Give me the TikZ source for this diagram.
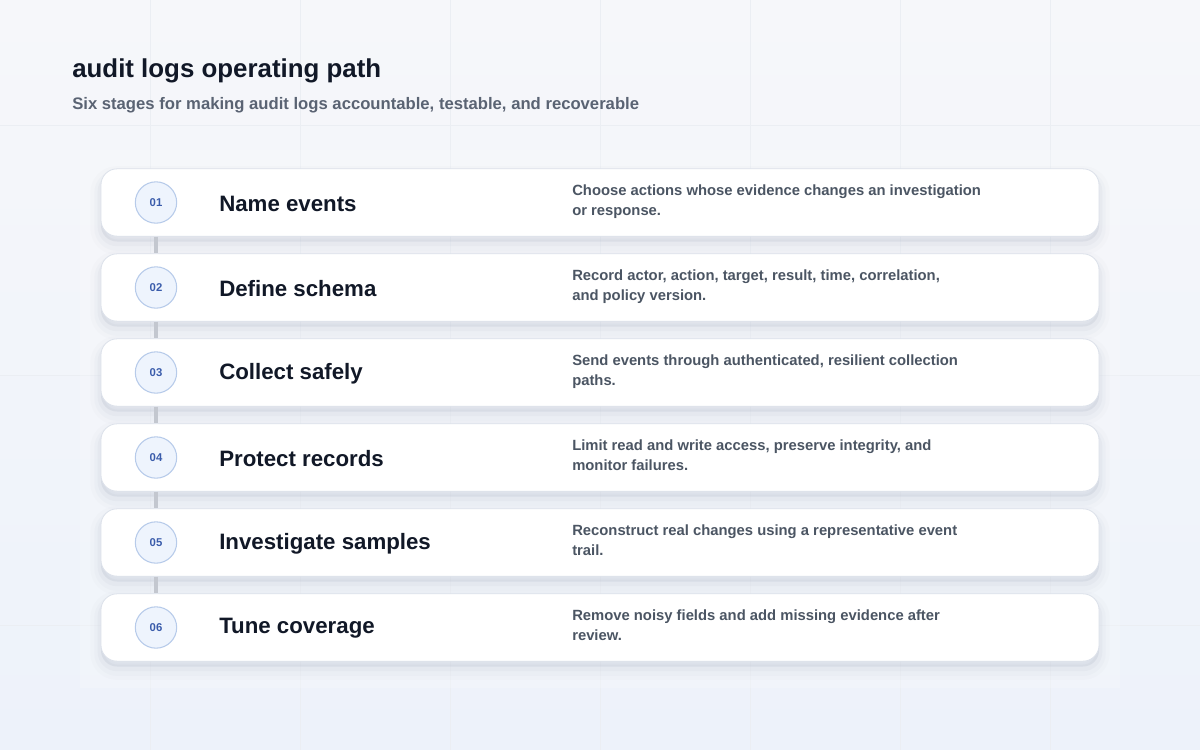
\documentclass[tikz,border=0pt]{standalone}
\usepackage{fontspec}
\setmainfont{Liberation Sans}
\definecolor{bgtop}{HTML}{F6F7FA}
\definecolor{bgbot}{HTML}{EDF2FA}
\definecolor{gridcol}{HTML}{EBEEF3}
\definecolor{cardline}{HTML}{DCE1EA}
\definecolor{shadowcol}{HTML}{7D89A3}
\definecolor{numfill}{HTML}{EEF4FD}
\definecolor{numline}{HTML}{B7CBEA}
\definecolor{numtext}{HTML}{3A5CAB}
\definecolor{ink}{HTML}{111827}
\definecolor{desctext}{HTML}{4B5563}
\definecolor{subtext}{HTML}{5A6373}
\definecolor{linkcol}{HTML}{C3C7CF}
\begin{document}
\begin{tikzpicture}[x=0.75pt, y=-0.75pt]
       \tikzstyle{card}=[draw=cardline, line width=0.6pt, fill=white, rounded corners=12pt,
         minimum width=748.5pt, minimum height=50.5pt,
         preaction={draw=shadowcol, line width=16pt, opacity=0.025, transform canvas={yshift=-6pt}},
         preaction={draw=shadowcol, line width=10pt, opacity=0.035, transform canvas={yshift=-6pt}},
         preaction={draw=shadowcol, line width=5pt, opacity=0.05, transform canvas={yshift=-5pt}},
         preaction={fill=shadowcol, opacity=0.12, transform canvas={yshift=-4pt}}]
       \tikzstyle{numnode}=[circle, draw=numline, line width=0.8pt, fill=numfill, minimum size=31pt,
         inner sep=0pt, text=numtext, font=\fontsize{8.5}{10}\selectfont\bfseries]
       \tikzstyle{titlenode}=[anchor=west, inner sep=0pt, text=ink, font=\fontsize{16.7}{20}\selectfont\bfseries]
       \tikzstyle{descnode}=[anchor=north west, inner sep=0pt, align=left, text=desctext,
         font=\fontsize{11.1}{15}\selectfont\bfseries]
       \tikzstyle{link}=[draw=linkcol, line width=2.3pt]
       % background
       \useasboundingbox[top color=bgtop, bottom color=bgbot] (0,0) rectangle (1200,750);
       \fill[top color=bgtop, bottom color=bgbot] (0,0) rectangle (1200,750);
       \draw[gridcol, line width=0.5pt] (150,0) -- (150,750) (300,0) -- (300,750) (450,0) -- (450,750)
         (600,0) -- (600,750) (750,0) -- (750,750) (900,0) -- (900,750) (1050,0) -- (1050,750)
         (0,125) -- (1200,125) (0,375) -- (1200,375) (0,625) -- (1200,625);
       \fill[white, opacity=0.18] (80,150) rectangle (1120,688);
       % heading
       \node[anchor=base west, inner sep=0pt, text=ink, font=\fontsize{19.4}{23}\selectfont\bfseries]
         (head) at (72,77) {audit logs operating path};
       \node[anchor=base west, inner sep=0pt, text=subtext, font=\fontsize{12.5}{15}\selectfont\bfseries]
         (sub) at (72,109) {Six stages for making audit logs accountable, testable, and recoverable};
       % stages
       \node[card] (card1) at (600,202.5) {};
       \node[card] (card2) at (600,287.5) {};
       \node[card] (card3) at (600,372.5) {};
       \node[card] (card4) at (600,457.5) {};
       \node[card] (card5) at (600,542.5) {};
       \node[card] (card6) at (600,627.5) {};
       \node[numnode] (num1) at (156,202.5) {01};
       \node[numnode] (num2) at (156,287.5) {02};
       \node[numnode] (num3) at (156,372.5) {03};
       \node[numnode] (num4) at (156,457.5) {04};
       \node[numnode] (num5) at (156,542.5) {05};
       \node[numnode] (num6) at (156,627.5) {06};
       \node[titlenode] (title1) at (219,203.5) {Name events};
       \node[titlenode] (title2) at (219,288.5) {Define schema};
       \node[titlenode] (title3) at (219,373.5) {Collect safely};
       \node[titlenode] (title4) at (219,458.5) {Protect records};
       \node[titlenode] (title5) at (219,543.5) {Investigate samples};
       \node[titlenode] (title6) at (219,628.5) {Tune coverage};
       \node[descnode] (desc1) at (572,185) {Choose actions whose evidence changes an investigation\\or response.};
       \node[descnode] (desc2) at (572,270) {Record actor, action, target, result, time, correlation,\\and policy version.};
       \node[descnode] (desc3) at (572,355) {Send events through authenticated, resilient collection\\paths.};
       \node[descnode] (desc4) at (572,440) {Limit read and write access, preserve integrity, and\\monitor failures.};
       \node[descnode] (desc5) at (572,525) {Reconstruct real changes using a representative event\\trail.};
       \node[descnode] (desc6) at (572,610) {Remove noisy fields and add missing evidence after\\review.};
       % connectors
       \draw[link] (card1.south -| num1) -- (card2.north -| num2);
       \draw[link] (card2.south -| num2) -- (card3.north -| num3);
       \draw[link] (card3.south -| num3) -- (card4.north -| num4);
       \draw[link] (card4.south -| num4) -- (card5.north -| num5);
       \draw[link] (card5.south -| num5) -- (card6.north -| num6);
      \end{tikzpicture}
\end{document}
